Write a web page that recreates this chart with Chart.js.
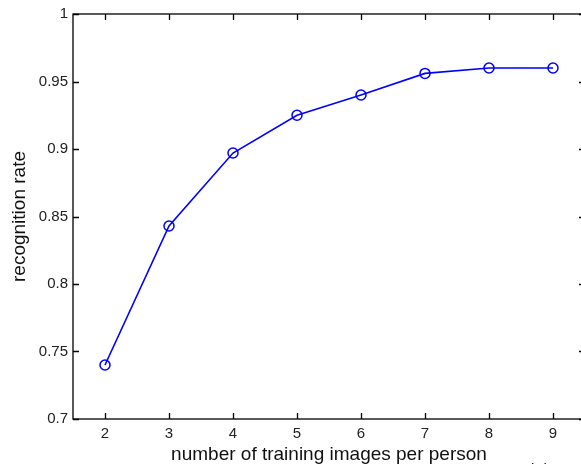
<!DOCTYPE html>
<html>
<head>
<meta charset="utf-8">
<script src="https://cdn.jsdelivr.net/npm/chart.js"></script>
<style>
    html, body { margin: 0; padding: 0; background: #fff; overflow: hidden; width: 581px; height: 464px; }
    #wrap { position: absolute; left: 0; top: 0; width: 600px; height: 464px; }
    #stray { position: absolute; left: 521px; top: 460px; font: 15px "Liberation Sans", Arial, sans-serif; color: #111; white-space: nowrap; }
</style>
</head>
<body>
<div id="wrap"><canvas id="chart" width="600" height="464"></canvas></div>
<div id="stray">Al do 5</div>
<script>
// training images per person
const imagesPerPerson = [2, 3, 4, 5, 6, 7, 8, 9];
// recognition rate
const recognitionRate = [0.740, 0.843, 0.897, 0.925, 0.940, 0.956, 0.960, 0.960];
const xTicks = [2, 3, 4, 5, 6, 7, 8, 9];
const yTicks = [0.7, 0.75, 0.8, 0.85, 0.9, 0.95, 1];
const yTickLabels = ['0.7', '0.75', '0.8', '0.85', '0.9', '0.95', '1'];

const FONT = '"Liberation Sans", Arial, Helvetica, sans-serif';

// matlab style frame with ticks pointing inwards on all four sides
const boxPlugin = {
    id: 'matlabBox',
    afterDraw(chart) {
        const {ctx, chartArea: a, scales: {x, y}} = chart;
        const len = 6;
        ctx.save();
        ctx.strokeStyle = '#000';
        ctx.lineWidth = 1.3;
        ctx.strokeRect(a.left, a.top, a.right - a.left, a.bottom - a.top);
        ctx.beginPath();
        for (const v of xTicks) {
            const px = Math.round(x.getPixelForValue(v)) + 0.5;
            ctx.moveTo(px, a.bottom); ctx.lineTo(px, a.bottom - len);
            ctx.moveTo(px, a.top); ctx.lineTo(px, a.top + len);
        }
        for (const v of yTicks) {
            const py = Math.round(y.getPixelForValue(v)) + 0.5;
            ctx.moveTo(a.left, py); ctx.lineTo(a.left + len, py);
            ctx.moveTo(a.right, py); ctx.lineTo(a.right - len, py);
        }
        ctx.stroke();
        ctx.restore();
    }
};

function init() {
    const points = imagesPerPerson.map((n, i) => ({x: n, y: recognitionRate[i]}));

    new Chart(document.getElementById('chart'), {
        type: 'line',
        data: {
            datasets: [{
                data: points,
                borderColor: '#0000ff',
                borderWidth: 1.6,
                backgroundColor: 'rgba(0,0,0,0)',
                pointStyle: 'circle',
                pointRadius: 5,
                pointBorderWidth: 1.5,
                pointBorderColor: '#0000ff',
                pointBackgroundColor: 'rgba(0,0,0,0)',
                tension: 0
            }]
        },
        options: {
            responsive: false,
            animation: false,
            events: [],
            layout: { padding: { left: 0, top: 14, right: 15, bottom: 0 } },
            plugins: { legend: { display: false }, tooltip: { enabled: false } },
            scales: {
                x: {
                    type: 'linear',
                    min: 1.5,
                    max: 9.5,
                    afterBuildTicks: scale => { scale.ticks = xTicks.map(v => ({value: v})); },
                    afterFit: scale => { scale.height = 45; },
                    grid: { display: true, drawOnChartArea: false, drawTicks: false },
                    border: { display: false },
                    ticks: {
                        padding: 6,
                        color: '#222',
                        font: { family: FONT, size: 15 },
                        maxRotation: 0,
                        callback: v => String(v)
                    },
                    title: {
                        display: true,
                        text: 'number of training images per person',
                        color: '#111',
                        font: { family: FONT, size: 19, lineHeight: 1 },
                        padding: { top: 0, bottom: 0 }
                    }
                },
                y: {
                    type: 'linear',
                    min: 0.7,
                    max: 1,
                    afterBuildTicks: scale => { scale.ticks = yTicks.map(v => ({value: v})); },
                    afterFit: scale => { scale.width = 73; },
                    grid: { display: true, drawOnChartArea: false, drawTicks: false },
                    border: { display: false },
                    ticks: {
                        padding: 5,
                        color: '#222',
                        font: { family: FONT, size: 15 },
                        callback: (v) => {
                            const i = yTicks.findIndex(t => Math.abs(t - v) < 1e-9);
                            return i >= 0 ? yTickLabels[i] : '';
                        }
                    },
                    title: {
                        display: true,
                        text: 'recognition rate',
                        color: '#111',
                        font: { family: FONT, size: 19, lineHeight: 1 },
                        padding: { top: 10, bottom: 0 }
                    }
                }
            }
        },
        plugins: [boxPlugin]
    });
}

init();
</script>
</body>
</html>
